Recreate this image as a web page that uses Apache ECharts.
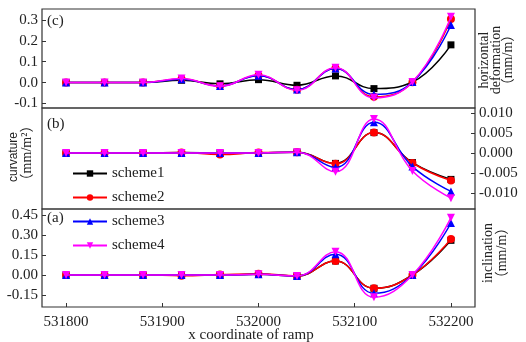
<!DOCTYPE html>
<html>
<head>
<meta charset="utf-8">
<script src="https://cdn.jsdelivr.net/npm/echarts@6/dist/echarts.min.js"></script>
<style>
  html, body { margin: 0; background: #fff; }
  #chart { width: 526px; height: 342px; }
</style>
</head>
<body>
<div id="chart"></div>
<script>
var xCoords = [531800, 531840, 531880, 531920, 531960, 532000, 532040, 532080, 532120, 532160, 532200];
var xTicks = [531800, 531900, 532000, 532100, 532200];
var schemes = ['scheme1', 'scheme2', 'scheme3', 'scheme4'];

// (c) horizontal deformation (mm/m)
var defTicks = [-0.1, 0, 0.1, 0.2, 0.3];
var defS1 = [0, 0, 0, 0.011, -0.006, 0.014, -0.013, 0.032, -0.029, 0.003, 0.181];
var defS2 = [0, 0, 0, 0.017, -0.016, 0.034, -0.034, 0.069, -0.068, 0.002, 0.305];
var defS3 = [0, 0, 0, 0.016, -0.016, 0.033, -0.033, 0.067, -0.057, 0.003, 0.276];
var defS4 = [0, 0, 0, 0.019, -0.018, 0.037, -0.037, 0.071, -0.073, 0.003, 0.316];

// (b) curvature (mm/m^2)
var curTicks = [-0.010, -0.005, 0, 0.005, 0.010];
var curS1 = [0, 0, 0, 0.0001, 0, 0, 0.0002, -0.0026, 0.0051, -0.0024, -0.0066];
var curS2 = [0, 0, 0, 0.0001, -0.0004, 0.0001, 0.0002, -0.0027, 0.0051, -0.0025, -0.0069];
var curS3 = [0, 0, 0, 0, 0, 0, 0.0002, -0.0036, 0.0077, -0.0034, -0.0096];
var curS4 = [0, 0, 0, 0, 0, 0, 0.0002, -0.0047, 0.0085, -0.0045, -0.0113];

// (a) inclination (mm/m)
var incTicks = [-0.15, 0, 0.15, 0.30, 0.45];
var incS1 = [0, 0, 0, 0, 0, 0.005, -0.007, 0.105, -0.100, 0, 0.260];
var incS2 = [0, 0, 0, -0.005, 0.003, 0.010, -0.007, 0.105, -0.100, 0, 0.270];
var incS3 = [0, 0, 0, 0, 0, 0.005, -0.007, 0.155, -0.137, 0, 0.390];
var incS4 = [0, 0, 0, 0, 0, 0.005, -0.007, 0.175, -0.167, 0, 0.430];

var colors = ['#000000', '#ff0000', '#0000ff', '#ff00ff'];
var symbols = ['rect', 'circle', 'triangle', 'triangle'];
var rotates = [0, 0, 0, 180];

var SERIF = '"Liberation Serif", "Times New Roman", serif';
var TXT = '#222';

function makeSeries (idx, panel, values) {
  return {
    name: schemes[idx],
    type: 'line',
    xAxisIndex: panel,
    yAxisIndex: panel,
    smooth: 0.45,
    symbol: symbols[idx],
    symbolRotate: rotates[idx],
    symbolSize: idx === 0 ? 7 : 8,
    showSymbol: true,
    itemStyle: { color: colors[idx] },
    lineStyle: { color: colors[idx], width: 1.5 },
    data: values.map(function (v, i) { return [xCoords[i], v]; }),
    z: 2 + idx
  };
}

function makeX (gridIndex, isBottom) {
  return {
    type: 'value',
    gridIndex: gridIndex,
    min: 531775,
    max: 532225,
    show: isBottom,
    axisLine: { show: false, onZero: false },
    splitLine: { show: false },
    axisTick: { show: true, inside: true, length: 4, customValues: xTicks, lineStyle: { color: '#333' } },
    axisLabel: {
      customValues: xTicks,
      margin: 8,
      fontFamily: SERIF,
      fontSize: 15,
      color: TXT,
      formatter: function (v) { return String(v); }
    }
  };
}

function makeY (gridIndex, min, max, ticks, digits, pos) {
  return {
    type: 'value',
    gridIndex: gridIndex,
    position: pos,
    min: min,
    max: max,
    axisLine: { show: false, onZero: false },
    splitLine: { show: false },
    axisTick: { show: true, inside: true, length: 4, customValues: ticks, lineStyle: { color: '#333' } },
    axisLabel: {
      customValues: ticks,
      margin: 4,
      fontFamily: SERIF,
      fontSize: 15,
      color: TXT,
      formatter: function (v) { return v.toFixed(digits); }
    }
  };
}

var gridBase = { left: 42, width: 433, show: true, borderColor: '#333', borderWidth: 1.2, backgroundColor: 'transparent' };

var series = [];
[defS1, defS2, defS3, defS4].forEach(function (d, i) { series.push(makeSeries(i, 0, d)); });
[curS1, curS2, curS3, curS4].forEach(function (d, i) { series.push(makeSeries(i, 1, d)); });
[incS1, incS2, incS3, incS4].forEach(function (d, i) { series.push(makeSeries(i, 2, d)); });

var myChart = echarts.init(document.getElementById('chart'));
myChart.setOption({
  animation: false,
  backgroundColor: '#fff',
  grid: [
    Object.assign({}, gridBase, { top: 9, height: 99 }),
    Object.assign({}, gridBase, { top: 108, height: 101 }),
    Object.assign({}, gridBase, { top: 209, height: 98 })
  ],
  xAxis: [makeX(0, false), makeX(1, false), makeX(2, true)],
  yAxis: [
    makeY(0, -0.122, 0.353, defTicks, 1, 'left'),
    makeY(1, -0.014, 0.01125, curTicks, 3, 'right'),
    makeY(2, -0.24, 0.495, incTicks, 2, 'left')
  ],
  legend: {
    data: schemes,
    orient: 'vertical',
    left: 72,
    top: 166,
    padding: 0,
    itemGap: 9,
    itemWidth: 34,
    itemHeight: 8,
    textStyle: { fontFamily: SERIF, fontSize: 15, color: TXT }
  },
  graphic: [
    { type: 'text', left: 47, top: 14, style: { text: '(c)', font: '15px ' + SERIF, fill: TXT } },
    { type: 'text', left: 47, top: 117, style: { text: '(b)', font: '15px ' + SERIF, fill: TXT } },
    { type: 'text', left: 47, top: 211, style: { text: '(a)', font: '15px ' + SERIF, fill: TXT } },
    { type: 'text', x: 251, y: 335, style: { text: 'x coordinate of ramp', font: '15px ' + SERIF, fill: TXT, textAlign: 'center', textVerticalAlign: 'middle' } },
    { type: 'text', x: 496, y: 60, rotation: Math.PI / 2,
      style: { text: 'horizontal\ndeformation\n（mm/m）', font: '14px ' + SERIF + ', "Noto Sans CJK SC"', lineHeight: 12, fill: TXT, textAlign: 'center', textVerticalAlign: 'middle' } },
    { type: 'text', x: 495, y: 253, rotation: Math.PI / 2,
      style: { text: 'inclination\n（mm/m）', font: '14px ' + SERIF + ', "Noto Sans CJK SC"', lineHeight: 14, fill: TXT, textAlign: 'center', textVerticalAlign: 'middle' } },
    { type: 'text', x: 14, y: 157, rotation: Math.PI / 2,
      style: { text: 'curvature', font: '12px "Liberation Sans", Arial, sans-serif', fill: TXT, textAlign: 'center', textVerticalAlign: 'middle' } },
    { type: 'text', x: 27, y: 153, rotation: Math.PI / 2,
      style: { text: '（mm/m²）', font: '14px ' + SERIF + ', "Noto Sans CJK SC"', fill: TXT, textAlign: 'center', textVerticalAlign: 'middle' } }
  ],
  series: series
});
</script>
</body>
</html>
